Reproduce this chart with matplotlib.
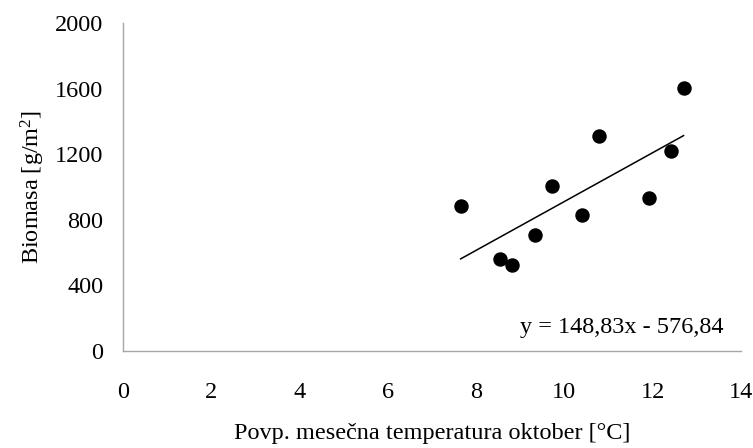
import numpy as np
import matplotlib.pyplot as plt

plt.rcParams['font.family'] = ['Liberation Serif', 'DejaVu Serif']
plt.rcParams['mathtext.fontset'] = 'custom'
plt.rcParams['mathtext.rm'] = 'Liberation Serif'

# data
temp_oct = [7.65, 8.54, 8.81, 9.33, 9.71, 10.41, 10.79, 11.92, 12.41, 12.70]
biomass = [886, 563, 524, 705, 1008, 827, 1311, 934, 1220, 1601]
slope = 148.83
intercept = -576.84

x_ticks = [0, 2, 4, 6, 8, 10, 12, 14]
y_ticks = [0, 400, 800, 1200, 1600, 2000]

fig = plt.figure(figsize=(7.53, 4.48), dpi=100)
ax = fig.add_axes([0.1633, 0.2165, 0.8207, 0.7322])

ax.plot(temp_oct, biomass, 'o', color='black', markersize=9.4, zorder=3)

# linear trend line
xs = np.array([min(temp_oct), max(temp_oct)])
ax.plot(xs, slope * xs + intercept, color='black', linewidth=1.1)

ax.text(0.971, 0.055, 'y = 148,83x - 576,84', transform=ax.transAxes,
        ha='right', va='baseline', fontsize=17.5)

ax.set_xlim(0, 14)
ax.set_ylim(0, 2000)
ax.set_xticks(x_ticks)
ax.set_yticks(y_ticks)
ax.tick_params(length=0, labelsize=17.5)
ax.tick_params(axis='x', pad=22)
ax.tick_params(axis='y', pad=14)

for s in ['top', 'right']:
    ax.spines[s].set_visible(False)
for s in ['left', 'bottom']:
    ax.spines[s].set_color('#a6a6a6')
    ax.spines[s].set_linewidth(1.0)

ax.set_xlabel('Povp. mesečna temperatura oktober [°C]', fontsize=17.5, labelpad=15)
ax.set_ylabel(r'Biomasa [g/m$\mathrm{^2}$]', fontsize=17.5, labelpad=6)

fig.savefig('out.png', dpi=100, facecolor='white')
